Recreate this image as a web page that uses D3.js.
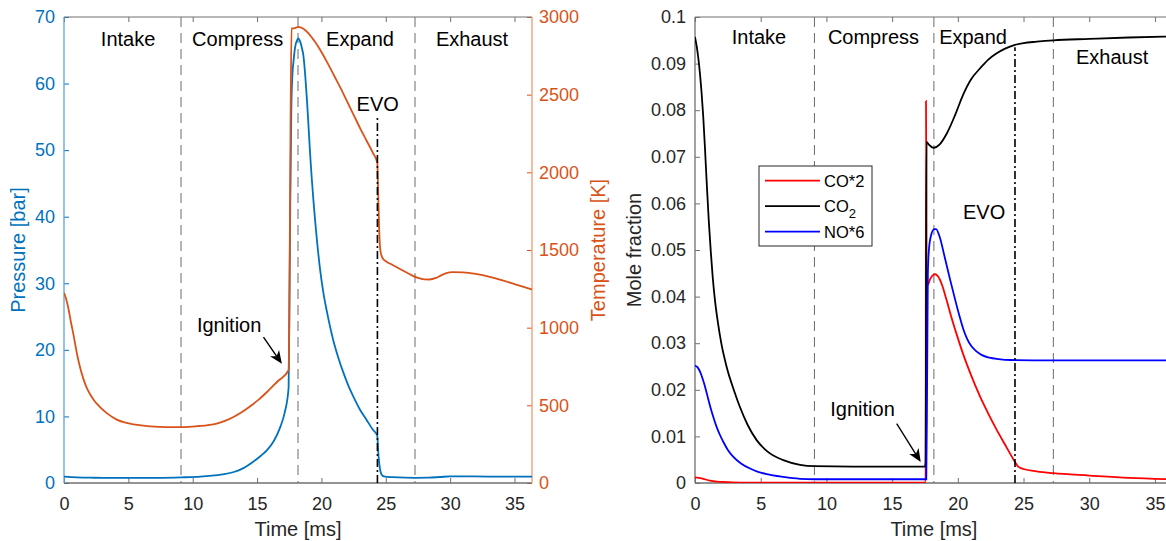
<!DOCTYPE html>
<html>
<head>
<meta charset="utf-8">
<script src="https://cdn.jsdelivr.net/npm/d3@7"></script>
<style>
  html, body { margin: 0; padding: 0; background: #fff; }
  svg { display: block; }
  text { font-family: "Liberation Sans", Arial, Helvetica, sans-serif; }
</style>
</head>
<body>
<svg id="chart" width="1166" height="541"></svg>
<script>
// ---- Engine cycle data (time in ms) ----
const cycleEnd = 36.36;
const timeTicks = [0, 5, 10, 15, 20, 25, 30, 35];
const pressureTicks = [0, 10, 20, 30, 40, 50, 60, 70];
const temperatureTicks = [0, 500, 1000, 1500, 2000, 2500, 3000];
const fractionTicks = [0, 0.01, 0.02, 0.03, 0.04, 0.05, 0.06, 0.07, 0.08, 0.09, 0.1];

const phaseNames = ["Intake", "Compress", "Expand", "Exhaust"];
const phaseBounds = [9.09, 18.18, 27.27];
const evoTime = 24.35;

// cylinder pressure [bar]
const pressure = [
  [0,0.95],[1,0.85],[2,0.8],[3,0.78],[5,0.76],[7,0.78],[9.09,0.85],[10.6,0.95],[11.5,1.1],
  [12.3,1.3],[13.2,1.65],[13.9,2.2],[14.7,3.2],[15.3,4.1],[15.76,4.9],[16.3,6.3],[16.8,8.4],
  [17.15,10.6],[17.45,14.3],[17.5,24],[17.58,42],[17.66,56],[17.75,61.5],[17.83,63.3],
  [17.96,65.5],[18.1,66.5],[18.2,66.8],[18.35,66.3],[18.5,65.2],[18.6,64.2],[18.75,61],
  [18.87,57.7],[19.0,53.5],[19.13,49.2],[19.39,42.2],[19.65,36.5],[19.9,32],[20.15,28.6],
  [20.43,25.7],[20.94,21.3],[21.3,18.9],[21.72,16.5],[22.1,14.6],[22.5,12.9],[23.0,11.0],
  [23.5,9.5],[24.0,8.0],[24.34,7.1],[24.42,4.5],[24.52,2.5],[24.62,1.5],[24.75,1.1],
  [24.95,0.95],[25.5,0.88],[26.5,0.8],[27.3,0.78],[28.3,0.8],[29.2,0.9],[30,1.0],[31,1.0],
  [33,0.97],[36.36,0.97]
];

// in-cylinder gas temperature [K]
const temperature = [
  [0,1225],[0.15,1190],[0.35,1120],[0.55,1030],[0.72,962],[0.9,880],[1.05,815],[1.24,747],
  [1.5,672],[1.76,614],[2.05,568],[2.4,525],[2.8,489],[3.4,445],[4.1,408],[4.7,390],[5.4,378],
  [6.7,365],[8,360],[9.15,360],[10.5,367],[11.2,373],[11.87,383],[12.5,400],[13.17,425],
  [13.8,455],[14.47,494],[15.1,535],[15.77,586],[16.6,655],[17.45,726],[17.5,1000],
  [17.6,2300],[17.68,2926],[17.95,2928],[18.2,2936],[18.6,2925],[19.0,2895],[19.5,2840],
  [20.0,2775],[20.5,2700],[21.0,2620],[21.5,2540],[22.0,2455],[22.5,2370],[23.0,2285],
  [23.5,2205],[24.0,2125],[24.34,2062],[24.4,1900],[24.48,1650],[24.55,1520],[24.65,1468],
  [24.8,1442],[25.0,1428],[25.5,1405],[26.0,1383],[26.5,1360],[27.0,1338],[27.5,1320],
  [28.0,1311],[28.4,1310],[28.9,1320],[29.3,1337],[29.7,1351],[30.2,1357],[31,1356],
  [32,1346],[33,1328],[34,1306],[35,1281],[36.36,1246]
];

// mole fractions (CO and NO scaled for display)
const coTimes2 = [
  [0,0.0012],[0.5,0.001],[1.14,0.0005],[1.7,0.0003],[2.4,0.0002],[3.5,0.0001],[17.55,0.0001],
  [17.58,0.082],[17.62,0.045],[17.7,0.0425],[17.9,0.0438],[18.15,0.0447],[18.3,0.0448],
  [18.5,0.0443],[18.8,0.0425],[19.15,0.0392],[19.5,0.0357],[19.9,0.032],[20.4,0.0277],
  [21.0,0.0232],[21.67,0.0187],[22.3,0.015],[22.94,0.0115],[23.6,0.0082],[24.0,0.0062],
  [24.35,0.0045],[24.6,0.0035],[25.0,0.003],[26,0.0025],[27.27,0.0021],[30,0.0016],
  [33,0.0011],[36.36,0.0008]
];
const co2 = [
  [0,0.0957],[0.13,0.0937],[0.25,0.0912],[0.38,0.0878],[0.5,0.0838],[0.63,0.0785],
  [0.76,0.0718],[0.89,0.0645],[1.05,0.0562],[1.2,0.0497],[1.35,0.0441],[1.52,0.0392],
  [1.75,0.0343],[2.0,0.03],[2.41,0.0249],[3.0,0.0196],[3.42,0.0163],[4.0,0.0125],
  [4.69,0.0092],[5.5,0.0068],[6.72,0.0049],[8,0.0039],[9.08,0.0036],[12,0.0035],
  [17.5,0.0035],[17.55,0.0045],[17.62,0.0732],[17.8,0.0726],[18.14,0.0719],[18.6,0.0726],
  [19.16,0.075],[19.8,0.079],[20.4,0.0833],[21.0,0.0866],[21.7,0.089],[22.3,0.0908],
  [22.96,0.0922],[23.6,0.0932],[24.35,0.094],[25.0,0.0944],[26.0,0.0947],[27.27,0.095],
  [30,0.0953],[33,0.0956],[36.36,0.0958]
];
const noTimes6 = [
  [0,0.0252],[0.2,0.0248],[0.4,0.0238],[0.6,0.0222],[0.8,0.0203],[1.0,0.0181],[1.2,0.016],
  [1.4,0.0141],[1.65,0.012],[1.9,0.0103],[2.16,0.0088],[2.5,0.0071],[2.92,0.0056],
  [3.5,0.0042],[4.19,0.0031],[4.8,0.0024],[5.45,0.0019],[6.72,0.0013],[8,0.0009],
  [9.08,0.0008],[17.6,0.0008],[17.66,0.02],[17.72,0.045],[17.8,0.05],[17.95,0.053],
  [18.2,0.0545],[18.35,0.0545],[18.6,0.053],[19.0,0.0485],[19.4,0.0438],[19.8,0.0393],
  [20.1,0.0361],[20.42,0.033],[20.7,0.031],[21.0,0.0295],[21.35,0.0284],[21.8,0.0275],
  [22.4,0.0269],[23.1,0.0266],[24,0.0264],[27,0.0263],[36.36,0.0263]
];

const speciesNames = ["CO*2", "CO", "NO*6"];
const speciesColors = ["#ff0000", "#000000", "#0000ff"];
const speciesData = [coTimes2, co2, noTimes6];

// ---- drawing ----
const svg = d3.select("#chart");
const textColor = "#262626";
const boxColor = "#707070";
const blue = "#0072BD", orange = "#D95319";
const plotTop = 17, plotBottom = 483;

const xL = d3.scaleLinear().domain([0, cycleEnd]).range([64, 532]);
const yP = d3.scaleLinear().domain([0, 70]).range([plotBottom, plotTop]);
const yT = d3.scaleLinear().domain([0, 3000]).range([plotBottom, plotTop]);
const xR = d3.scaleLinear().domain([0, cycleEnd]).range([695, 1172.8]);
const yF = d3.scaleLinear().domain([0, 0.1]).range([plotBottom, plotTop]);

const defs = svg.append("defs");
defs.append("clipPath").attr("id", "clipL").append("rect")
  .attr("x", 64).attr("y", plotTop).attr("width", 468).attr("height", plotBottom - plotTop);
defs.append("clipPath").attr("id", "clipR").append("rect")
  .attr("x", 695).attr("y", plotTop).attr("width", 1172.8 - 695).attr("height", plotBottom - plotTop);

function styleAxis(g, color, labelColor, size) {
  g.select(".domain").remove();
  g.selectAll(".tick line").attr("stroke", color);
  g.selectAll(".tick text").attr("fill", labelColor).attr("font-size", size)
    .attr("font-family", "Liberation Sans, Arial, sans-serif");
}

function drawFrame(x, yLeft, leftColor, leftLabelColor, yRight, rightColor) {
  const [x0, x1] = x.range();
  // phase boundaries
  svg.append("g").selectAll("line").data(phaseBounds).join("line")
    .attr("x1", d => x(d)).attr("x2", d => x(d))
    .attr("y1", plotTop).attr("y2", plotBottom)
    .attr("stroke", "#6a6a6a").attr("stroke-width", 1).attr("stroke-dasharray", "10,6");

  const gb = svg.append("g").attr("transform", `translate(0,${plotBottom})`)
    .call(d3.axisBottom(x).tickValues(timeTicks).tickSize(-5).tickSizeOuter(0).tickPadding(14)
      .tickFormat(d3.format("d")));
  styleAxis(gb, boxColor, textColor, 18);
  const gt = svg.append("g").attr("transform", `translate(0,${plotTop})`)
    .call(d3.axisTop(x).tickValues(timeTicks).tickSize(-5).tickSizeOuter(0).tickFormat(""));
  styleAxis(gt, boxColor, textColor, 18);

  const gl = svg.append("g").attr("transform", `translate(${x0},0)`)
    .call(d3.axisLeft(yLeft.scale).tickValues(yLeft.ticks).tickSize(-5).tickSizeOuter(0)
      .tickPadding(9).tickFormat(yLeft.format));
  styleAxis(gl, leftColor, leftLabelColor, 18);

  if (yRight) {
    const gr = svg.append("g").attr("transform", `translate(${x1},0)`)
      .call(d3.axisRight(yRight.scale).tickValues(yRight.ticks).tickSize(-5).tickSizeOuter(0)
        .tickPadding(7).tickFormat(yRight.format));
    styleAxis(gr, rightColor, rightColor, 18);
  }

  // box
  svg.append("line").attr("x1", x0).attr("x2", x1).attr("y1", plotTop).attr("y2", plotTop)
    .attr("stroke", boxColor).attr("stroke-width", 1);
  svg.append("line").attr("x1", x0).attr("x2", x1).attr("y1", plotBottom).attr("y2", plotBottom)
    .attr("stroke", boxColor).attr("stroke-width", 1.3);
  svg.append("line").attr("x1", x0).attr("x2", x0).attr("y1", plotTop).attr("y2", plotBottom)
    .attr("stroke", yRight ? "#5fa3d6" : boxColor).attr("stroke-width", 1.3);
  svg.append("line").attr("x1", x1).attr("x2", x1).attr("y1", plotTop).attr("y2", plotBottom)
    .attr("stroke", yRight ? "#eb9a72" : boxColor).attr("stroke-width", 1.3);
}

function drawArrow(x1, y1, x2, y2) {
  const dx = x2 - x1, dy = y2 - y1, len = Math.hypot(dx, dy);
  const ux = dx / len, uy = dy / len, px = -uy, py = ux;
  const L = 13, w = 5.5;
  svg.append("line").attr("x1", x1).attr("y1", y1)
    .attr("x2", x2 - ux * L * 0.7).attr("y2", y2 - uy * L * 0.7)
    .attr("stroke", "#000").attr("stroke-width", 1.4);
  const pts = [
    [x2, y2],
    [x2 - ux * L + px * w, y2 - uy * L + py * w],
    [x2 - ux * L * 0.72, y2 - uy * L * 0.72],
    [x2 - ux * L - px * w, y2 - uy * L - py * w]
  ];
  svg.append("path").attr("d", "M" + pts.map(p => p.join(",")).join("L") + "Z").attr("fill", "#000");
}

function label(x, y, txt, anchor) {
  return svg.append("text").attr("x", x).attr("y", y).attr("text-anchor", anchor || "middle")
    .attr("font-size", 20).attr("fill", "#000").text(txt);
}

// ===== Left: pressure & temperature =====
drawFrame(xL,
  { scale: yP, ticks: pressureTicks, format: d3.format("d") }, blue, blue,
  { scale: yT, ticks: temperatureTicks, format: d3.format("d") }, orange);

const plotL = svg.append("g").attr("clip-path", "url(#clipL)");
plotL.append("path").datum(pressure)
  .attr("d", d3.line().x(d => xL(d[0])).y(d => yP(d[1])).curve(d3.curveMonotoneX))
  .attr("fill", "none").attr("stroke", blue).attr("stroke-width", 1.8);
plotL.append("path").datum(temperature)
  .attr("d", d3.line().x(d => xL(d[0])).y(d => yT(d[1])).curve(d3.curveMonotoneX))
  .attr("fill", "none").attr("stroke", orange).attr("stroke-width", 1.8);

// exhaust valve opening
svg.append("line").attr("x1", xL(evoTime)).attr("x2", xL(evoTime))
  .attr("y1", yP(0)).attr("y2", yP(55))
  .attr("stroke", "#000").attr("stroke-width", 1.6).attr("stroke-dasharray", "8,3,2,3");

// phase names and annotations
const phaseCentresL = [4.98, 13.49, 23.0, 31.7];
phaseNames.forEach((n, i) => label(xL(phaseCentresL[i]), yP(65.7), n));
label(xL(24.37), yP(55.9), "EVO");
label(xL(12.83), yP(22.7), "Ignition");
drawArrow(xL(15.5), yP(21.9), xL(16.93), yP(17.9));

svg.append("text").attr("transform", `translate(25,${(plotTop + plotBottom) / 2}) rotate(-90)`)
  .attr("text-anchor", "middle").attr("font-size", 20).attr("fill", blue).text("Pressure [bar]");
svg.append("text").attr("transform", `translate(605,${(plotTop + plotBottom) / 2}) rotate(-90)`)
  .attr("text-anchor", "middle").attr("font-size", 20).attr("fill", orange).text("Temperature [K]");
svg.append("text").attr("x", (xL.range()[0] + xL.range()[1]) / 2).attr("y", 536)
  .attr("text-anchor", "middle").attr("font-size", 20).attr("fill", textColor).text("Time [ms]");

// ===== Right: mole fractions =====
drawFrame(xR,
  { scale: yF, ticks: fractionTicks, format: d => String(+d.toFixed(2)) }, boxColor, textColor,
  null, null);

const plotR = svg.append("g").attr("clip-path", "url(#clipR)");
speciesData.forEach((s, i) => {
  plotR.append("path").datum(s)
    .attr("d", d3.line().x(d => xR(d[0])).y(d => yF(d[1])).curve(d3.curveMonotoneX))
    .attr("fill", "none").attr("stroke", speciesColors[i]).attr("stroke-width", 1.8);
});

svg.append("line").attr("x1", xR(evoTime)).attr("x2", xR(evoTime))
  .attr("y1", yF(0)).attr("y2", yF(0.0935))
  .attr("stroke", "#000").attr("stroke-width", 1.6).attr("stroke-dasharray", "8,3,2,3");

const phaseCentresR = [4.87, 13.58, 21.16, 31.74];
const phaseBaseR = [0.0941, 0.0941, 0.0941, 0.09];
phaseNames.forEach((n, i) => label(xR(phaseCentresR[i]), yF(phaseBaseR[i]), n));
label(xR(22.0), yF(0.0567), "EVO");
label(xR(12.75), yF(0.0143), "Ignition");
drawArrow(xR(15.35), yF(0.01275), xR(17.18), yF(0.0045));

svg.append("text").attr("transform", `translate(641,${(plotTop + plotBottom) / 2}) rotate(-90)`)
  .attr("text-anchor", "middle").attr("font-size", 20).attr("fill", textColor).text("Mole fraction");
svg.append("text").attr("x", (xR.range()[0] + xR.range()[1]) / 2).attr("y", 536)
  .attr("text-anchor", "middle").attr("font-size", 20).attr("fill", textColor).text("Time [ms]");

// legend
const lg = svg.append("g").attr("transform", "translate(759,166)");
lg.append("rect").attr("width", 113).attr("height", 80).attr("fill", "#fff")
  .attr("stroke", "#262626").attr("stroke-width", 1);
speciesNames.forEach((n, i) => {
  const y = 14.7 + i * 25.5;
  lg.append("line").attr("x1", 6).attr("x2", 61).attr("y1", y).attr("y2", y)
    .attr("stroke", speciesColors[i]).attr("stroke-width", 1.8);
  const t = lg.append("text").attr("x", 65).attr("y", y + 6.2).attr("font-size", 16.5)
    .attr("fill", "#000").text(n);
  if (n === "CO") t.append("tspan").attr("font-size", 13).attr("dy", 5.6).text("2");
});
</script>
</body>
</html>
